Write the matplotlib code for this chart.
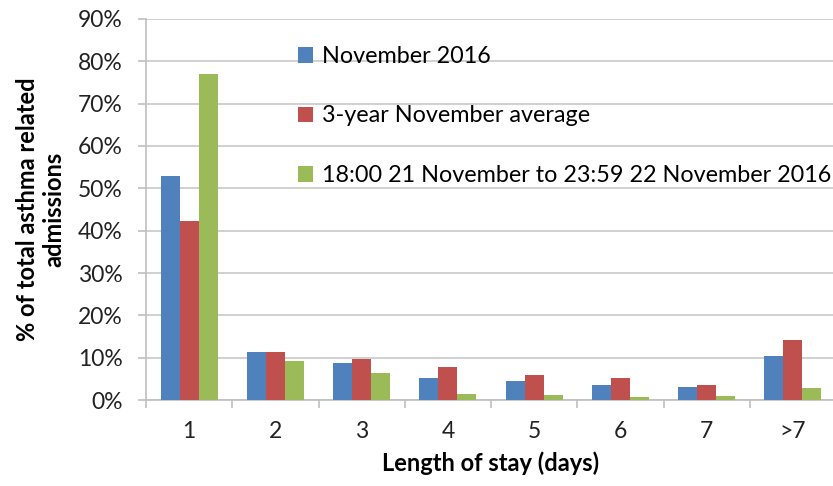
import numpy as np
import matplotlib.pyplot as plt

plt.rcParams['font.family'] = ['Lato', 'DejaVu Sans']

# length of stay categories and share of admissions (%)
kategorien = ['1', '2', '3', '4', '5', '6', '7', '>7']
nov2016 = [52.9, 11.3, 8.7, 5.2, 4.5, 3.6, 3.0, 10.5]
schnitt3j = [42.3, 11.4, 9.6, 7.8, 5.9, 5.1, 3.6, 14.2]
gewitter = [76.9, 9.1, 6.3, 1.5, 1.1, 0.8, 1.0, 2.9]

labels = ['November 2016', '3-year November average',
          '18:00 21 November to 23:59 22 November 2016']
farben = ['#4F81BD', '#C0504D', '#9BBB59']

W, H = 833, 486
fig = plt.figure(figsize=(W/100, H/100), dpi=100)
ax = fig.add_axes([146/W, 86/H, 690/W, 381/H])

x = np.arange(len(kategorien))
b = 0.22
for i, (werte, lab, c) in enumerate(zip([nov2016, schnitt3j, gewitter], labels, farben)):
    ax.bar(x + (i - 1)*b, werte, width=b, color=c, label=lab, zorder=3)

ax.set_xlim(-0.5, len(kategorien) - 0.5)
ax.set_ylim(0, 90)
ax.set_yticks(np.arange(0, 91, 10))
ax.set_yticklabels([f'{v}%' for v in range(0, 91, 10)])
ax.set_xticks(x)
ax.set_xticklabels(kategorien)
ax.set_xticks(np.arange(-0.5, len(kategorien)), minor=True)
ax.tick_params(axis='x', which='major', length=0, pad=15, labelsize=16.5, labelcolor='#222222')
ax.tick_params(axis='x', which='minor', length=6, color='#BFBFBF', width=1.2)
ax.tick_params(axis='y', length=6, color='#BFBFBF', width=1.2, labelsize=16.5,
               labelcolor='#222222', pad=11)

ax.grid(axis='y', color='#C8C8C8', linewidth=1.2, zorder=0)
for s in ['top', 'right']:
    ax.spines[s].set_visible(False)
for s in ['left', 'bottom']:
    ax.spines[s].set_color('#BFBFBF')
    ax.spines[s].set_linewidth(1.2)

ax.set_xlabel('Length of stay (days)', fontsize=17, fontweight='bold', labelpad=7)
ax.set_ylabel('% of total asthma related\nadmissions', fontsize=17,
              fontweight='bold', labelpad=9, linespacing=1.15)

ax.legend(loc='upper left', bbox_to_anchor=(298/W, 1 - 46/H), bbox_transform=fig.transFigure,
          frameon=False, fontsize=16.8, handlelength=0.65, handleheight=0.65,
          handletextpad=0.4, labelspacing=1.65, borderaxespad=0, borderpad=0)

fig.savefig('out.png', dpi=100)
